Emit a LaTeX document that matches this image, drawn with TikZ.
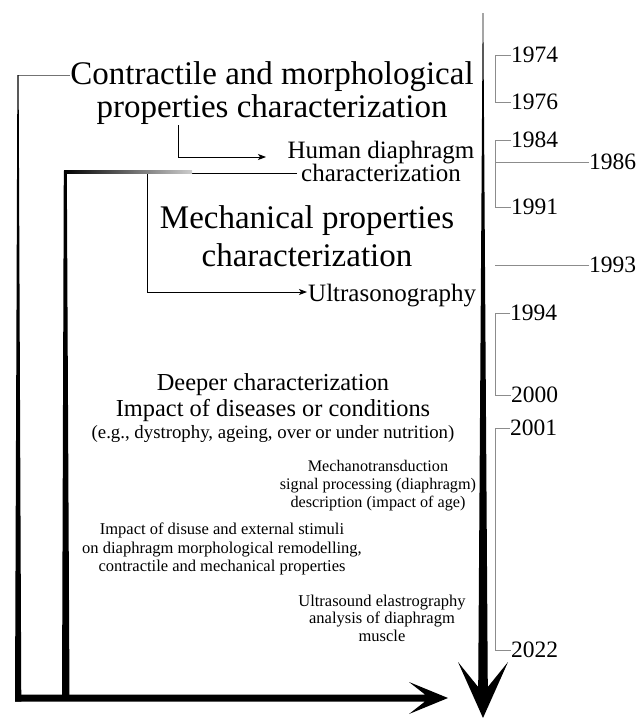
\documentclass[tikz,border=0pt]{standalone}
\usepackage{fontspec}
\setmainfont{Liberation Serif}
\usetikzlibrary{arrows.meta}
\begin{document}
\begin{tikzpicture}[x=1pt,y=-1pt,
  txt/.style={inner sep=0pt, align=center, text=black},
  big/.style={font=\fontsize{33}{33}\selectfont},
  mid/.style={font=\fontsize{25}{23}\selectfont},
  small/.style={font=\fontsize{16.5}{17.5}\selectfont},
  year/.style={inner sep=0pt, anchor=west, font=\fontsize{23.5}{23}\selectfont},
  yr/.style={draw=black!45, line width=0.7pt},
  thinarr/.style={draw=black, line width=0.9pt, -{Stealth[length=8pt,width=6pt,inset=2pt]}},
  thinln/.style={draw=black, line width=0.9pt}]
\useasboundingbox (0,0) rectangle (641,718);

% ---------- text nodes ----------
\node[txt,big] (title) at (272,93.5) {Contractile and morphological\\properties characterization};
\node[txt,mid] (human) at (381,161) {Human diaphragm\\characterization};
\node[txt,font=\fontsize{33}{38}\selectfont] (mech) at (307,236.5) {Mechanical properties\\characterization};
\node[txt,mid,anchor=west] (ultra) at (308,296) {Ultrasonography};
\node[txt,font=\fontsize{24.4}{26}\selectfont] (deeper) at (273,408.5) {Deeper characterization\\Impact of diseases or conditions\\[-4pt]{\fontsize{18.8}{22}\selectfont (e.g., dystrophy, ageing, over or under nutrition)}};
\node[txt,font=\fontsize{16.2}{18}\selectfont] (mechano) at (378,486) {Mechanotransduction\\signal processing (diaphragm)\\description (impact of age)};
\node[txt,small,font=\fontsize{16.5}{18.5}\selectfont] (disuse) at (222,549) {Impact of disuse and external stimuli\\on diaphragm morphological remodelling,\\contractile and mechanical properties};
\node[txt,small] (elasto) at (382,618) {Ultrasound elastrography\\analysis of diaphragm\\muscle};

% ---------- years ----------
\node[year] (y1974) at (511,55) {1974};
\node[year] (y1976) at (511,102) {1976};
\node[year] (y1984) at (511,140) {1984};
\node[year] (y1991) at (511,207) {1991};
\node[year] (y1986) at (589,162) {1986};
\node[year] (y1993) at (589,265) {1993};
\node[year] (y1994) at (510,313) {1994};
\node[year] (y2000) at (511,395) {2000};
\node[year] (y2001) at (510,428) {2001};
\node[year] (y2022) at (511,650) {2022};

\coordinate (bx) at (495,0);
\draw[yr] (y1974.west) -- (y1974.west -| bx) |- (y1976.west);
\draw[yr] (y1984.west) -- (y1984.west -| bx) |- (y1991.west);
\draw[yr] (y1986.west) -- (y1986.west -| bx);
\draw[yr] (y1993.west) -- (y1993.west -| bx);
\draw[yr] (y1994.west) -- (y1994.west -| bx) |- (y2000.west);
\draw[yr] (y2001.west) -- (y2001.west -| bx) |- (y2022.west);

% ---------- thin connectors ----------
\coordinate (a1x) at (178,0);
\coordinate (hdin) at (266,157);
\draw[thinarr] (title.south -| a1x) |- (hdin);
\coordinate (h2) at (297,173);
\coordinate (vx) at (147,0);
\draw[thinarr] (h2) -- (h2 -| vx) |- ([shift={(-1,-4)}]ultra.west);

% ---------- heavy timeline arrows ----------
\coordinate (L1) at (18,75);
\draw[black!55, line width=0.8pt] (L1) -- (L1 -| title.west);
\fill[black] (17.4,75) -- (18.6,75) -- (21.3,701.5) -- (15,701.5) -- cycle;
\fill[black] (63.8,170.5) -- (66.8,170.5) -- (69.5,698) -- (62,698) -- cycle;
\shade[left color=black, right color=black!20] (64,170.3) rectangle (192,173.3);
\fill[black] (15,694.5) -- (425,694.5) -- (409,682) -- (448,698) -- (409,714) -- (425,701.5) -- (15,701.5) -- cycle;
\fill[black] (482.7,13) -- (483.3,13) -- (487.8,687) -- (508,662) -- (483,718) -- (458,662) -- (478.2,687) -- cycle;
\end{tikzpicture}
\end{document}
